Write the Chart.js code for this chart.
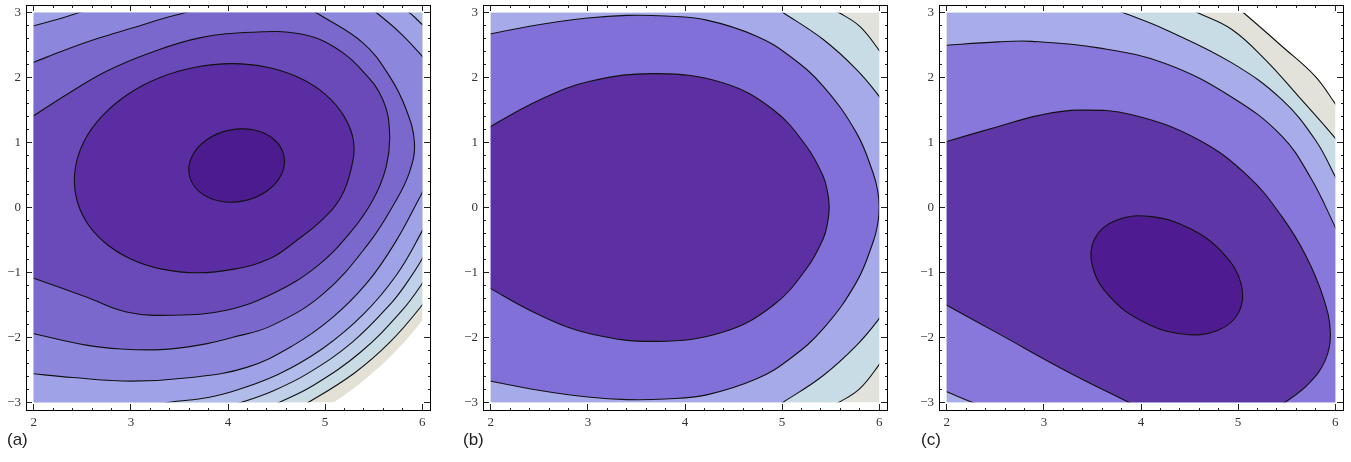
<!DOCTYPE html>
<html>
<head>
<meta charset="utf-8">
<script src="https://cdn.jsdelivr.net/npm/chart.js@4.4.1/dist/chart.umd.min.js"></script>
<style>
  html, body { margin: 0; padding: 0; background: #fff; }
  body { width: 1351px; height: 462px; position: relative; overflow: hidden; }
  canvas { position: absolute; top: 0; }
  .tag { position: absolute; top: 430px; font: 17px "Liberation Sans", Arial, sans-serif; color: #222; }
</style>
</head>
<body>
<canvas id="cA" width="444" height="462" style="left:0px"></canvas>
<canvas id="cB" width="444" height="462" style="left:457px"></canvas>
<canvas id="cC" width="444" height="462" style="left:913px"></canvas>
<div class="tag" style="left:7px">(a)</div>
<div class="tag" style="left:463px">(b)</div>
<div class="tag" style="left:921px">(c)</div>
<script>
// ── domain / ticks ──
const xDomain = [2, 6];
const yDomain = [-3, 3];
const xMajor = [2, 3, 4, 5, 6];
const yMajor = [-3, -2, -1, 0, 1, 2, 3];
const minorStep = 0.2;

// ── panel (a) contour lines, [x, y] ──
// open pieces carry one point just past the frame so they leave it at the right angle
const A_L1 = [[4.576,0.796],[4.549,0.504],[4.397,0.250],[4.163,0.102],[3.909,0.100],[3.704,0.245],[3.602,0.497],[3.630,0.790],[3.781,1.044],[4.015,1.192],[4.269,1.193],[4.474,1.048]];
const A_L2 = [[5.293,1.017],[5.269,0.602],[5.166,0.168],[4.985,-0.167],[4.703,-0.512],[4.426,-0.791],[4.062,-0.950],[3.685,-1.006],[3.321,-0.950],[2.992,-0.788],[2.724,-0.532],[2.532,-0.197],[2.432,0.194],[2.428,0.609],[2.521,1.028],[2.708,1.414],[2.974,1.749],[3.300,2.003],[3.664,2.161],[4.040,2.217],[4.405,2.161],[4.734,1.999],[5.002,1.744],[5.194,1.408]];
const A_L3 = [[1.85,1.27],[2.0,1.414],[2.336,1.738],[2.748,2.099],[3.194,2.382],[3.708,2.614],[4.257,2.701],[4.738,2.676],[5.081,2.485],[5.389,2.099],[5.595,1.661],[5.664,1.146],[5.629,0.631],[5.492,0.116],[5.252,-0.399],[4.909,-0.914],[4.463,-1.325],[3.983,-1.583],[3.434,-1.660],[2.954,-1.609],[2.54,-1.378],[2.0,-1.09],[1.85,-1.01]];
const A_L4a = [[1.85,2.15],[2.0,2.238],[2.336,2.434],[2.679,2.614],[3.022,2.768],[3.297,2.897],[3.554,3.0],[3.8,3.1]];
const A_L4b = [[4.75,3.15],[4.91,3.0],[5.389,2.537],[5.664,2.02],[5.836,1.506],[5.92,0.99],[5.87,0.55],[5.727,0.1],[5.45,-0.55],[4.98,-1.33],[4.45,-1.82],[4.05,-2.0],[3.7,-2.12],[3.3,-2.19],[2.9,-2.18],[2.54,-2.12],[2.0,-1.944],[1.85,-1.89]];
const A_L5a = [[1.85,2.75],[2.0,2.80],[2.2,2.88],[2.46,3.0],[2.6,3.07]];
const A_L5b = [[5.42,3.12],[5.53,3.0],[5.78,2.68],[6.0,2.33],[6.1,2.15]];
const A_L5c = [[6.12,0.56],[6.0,0.227],[5.724,-0.533],[5.433,-1.159],[5.072,-1.701],[4.655,-2.14],[4.193,-2.463],[3.62,-2.62],[3.0,-2.675],[2.4,-2.62],[2.0,-2.562],[1.85,-2.535]];
const A_L6a = [[6.08,2.73],[6.0,2.82],[5.93,2.92],[5.87,3.0],[5.8,3.07]];
const A_L6b = [[3.15,-3.1],[3.40,-3.0],[3.7,-2.95],[4.0,-2.854],[4.509,-2.576],[4.979,-2.168],[5.395,-1.644],[5.744,-1.020],[6.0,-0.36],[6.08,-0.1]];
const A_L7 = [[3.869,-3.107],[4.14,-3.0],[4.463,-2.826],[4.818,-2.56],[5.281,-2.073],[5.681,-1.472],[5.853,-1.135],[6.0,-0.79],[6.136,-0.4]];
const A_L8 = [[4.351,-3.109],[4.532,-3.0],[4.885,-2.735],[5.367,-2.226],[5.783,-1.602],[6.0,-1.17],[6.15,-0.80]];
const A_L9 = [[4.621,-3.152],[4.83,-3.0],[5.306,-2.546],[5.675,-2.064],[6.0,-1.502],[6.17,-1.131]];
const A_edge = [[4.88,-3.17],[5.09,-3.0],[5.44,-2.61],[5.76,-2.16],[6.0,-1.74],[6.16,-1.42]];
const A_colors = ['#e3e1d6','#c9dce4','#c0d0e8','#b2bcea','#a0a2e8','#8c86dc','#7a68cc','#6a4ab8','#5a2ea2','#4c1c8e'];

// ── panel (b) ──
const B_L1 = [[1.85,1.1],[2.0,1.25],[2.508,1.661],[3.022,1.944],[3.708,2.063],[4.395,1.919],[4.909,1.507],[5.252,0.94],[5.424,0.477],[5.47,0.22],[5.485,0.0],[5.47,-0.22],[5.424,-0.477],[5.252,-0.94],[4.909,-1.507],[4.395,-1.919],[3.708,-2.063],[3.022,-1.944],[2.508,-1.661],[2.0,-1.25],[1.85,-1.1]];
const B_L2 = [[1.85,2.62],[2.0,2.676],[2.508,2.82],[3.0,2.92],[3.40,2.96],[3.8,2.95],[4.223,2.887],[4.738,2.64],[5.081,2.33],[5.424,1.867],[5.767,1.146],[5.938,0.528],[5.985,0.25],[6.0,0.0],[5.985,-0.25],[5.938,-0.528],[5.767,-1.146],[5.424,-1.867],[5.081,-2.33],[4.738,-2.64],[4.223,-2.887],[3.8,-2.95],[3.40,-2.96],[3.0,-2.92],[2.508,-2.82],[2.0,-2.676],[1.85,-2.62]];
const B_L3a = [[4.9,3.1],[5.012,3.0],[5.424,2.588],[5.767,2.125],[6.0,1.713],[6.1,1.48]];
const B_L3b = [[6.1,-1.48],[6.0,-1.713],[5.767,-2.125],[5.424,-2.588],[5.012,-3.0],[4.9,-3.1]];
const B_L4a = [[5.48,3.08],[5.588,3.0],[5.80,2.79],[6.0,2.42],[6.1,2.2]];
const B_L4b = [[6.1,-2.2],[6.0,-2.42],[5.80,-2.79],[5.588,-3.0],[5.48,-3.08]];
const B_colors = ['#e2e2dc','#c8dce6','#a6aae8','#8070d8','#5c30a2'];

// ── panel (c) ──
const C_L1 = [[5.008,-1.612],[4.788,-1.894],[4.427,-1.949],[4.023,-1.761],[3.684,-1.381],[3.501,-0.911],[3.524,-0.477],[3.745,-0.196],[4.105,-0.141],[4.509,-0.329],[4.848,-0.709],[5.031,-1.178]];
const C_L2a = [[1.85,0.955],[2.0,1.018],[2.532,1.249],[2.95,1.42],[3.35,1.5],[3.906,1.43],[4.592,1.043],[5.107,0.477],[5.451,-0.141],[5.70,-0.75],[5.88,-1.4],[5.95,-1.94],[5.897,-2.355],[5.725,-2.716],[5.485,-3.0],[5.35,-3.12]];
const C_L2b = [[4.05,-3.13],[3.871,-3.0],[3.219,-2.51],[2.532,-1.943],[2.0,-1.506],[1.85,-1.38]];
const C_L3a = [[1.85,2.48],[2.0,2.50],[2.532,2.552],[2.876,2.56],[3.562,2.46],[4.249,2.22],[4.936,1.70],[5.45,1.10],[5.75,0.45],[6.0,-0.30],[6.06,-0.5]];
const C_L3b = [[2.4,-3.08],[2.26,-3.0],[2.0,-2.84],[1.85,-2.75]];
const C_L4 = [[3.65,3.1],[3.82,3.0],[4.249,2.743],[4.936,2.228],[5.451,1.661],[5.794,1.043],[6.0,0.477],[6.07,0.25]];
const C_L5 = [[4.44,3.1],[4.585,3.0],[4.936,2.743],[5.279,2.279],[5.622,1.713],[6.0,1.069],[6.08,0.9]];
const C_L6 = [[4.93,3.15],[5.056,3.0],[5.451,2.485],[5.794,2.022],[6.0,1.6],[6.08,1.42]];
const C_colors = ['#e2e2da','#c8dce6','#a8ace8','#8878dc','#5e36a6','#4e1c90'];

// corners just outside the plotted domain, used to close the fill shapes
const M = 0.3;
const oTL = [xDomain[0] - M, yDomain[1] + M], oTR = [xDomain[1] + M, yDomain[1] + M];
const oBL = [xDomain[0] - M, yDomain[0] - M], oBR = [xDomain[1] + M, yDomain[0] - M];

// closed curve: wrap one point on each side so the spline has no seam
const closed = arr => [arr[arr.length - 1], ...arr, arr[0], arr[1]];

// ── helpers ──
const toXY = arr => arr.map(p => ({ x: p[0], y: p[1] }));
const isMajor = v => Math.abs(v - Math.round(v)) < 1e-6;
const fmt = v => (v < 0 ? '\u2212' + Math.abs(v) : String(v));

function fillSet(parts, color, tension = 0.4) {
  return {
    data: toXY([].concat(...parts)), showLine: true, fill: 'shape',
    backgroundColor: color, borderColor: 'rgba(0,0,0,0)', borderWidth: 0,
    pointRadius: 0, pointHoverRadius: 0, tension
  };
}
function lineSet(arr) {
  return {
    data: toXY(arr), showLine: true, fill: false, borderColor: '#111', borderWidth: 1.1,
    pointRadius: 0, pointHoverRadius: 0, tension: 0.4
  };
}
function loopLineSet(arr) {
  const pts = closed(arr);
  const last = pts.length - 1;
  const ds = lineSet(pts);
  // the two wrap-around segments only shape the spline, they are not stroked
  ds.segment = { borderColor: c => (c.p0DataIndex === 0 || c.p1DataIndex === last) ? 'rgba(0,0,0,0)' : undefined };
  return ds;
}

function tickValues(domain) {
  const out = [];
  for (let v = domain[0]; v <= domain[1] + 1e-9; v += minorStep) out.push(Math.round(v * 10) / 10);
  return out;
}

function axis(pos, domain, majors, labels, size) {
  const horiz = pos === 'top' || pos === 'bottom';
  const pad = 0.02 * (domain[1] - domain[0]);
  // minor ticks: 3px from the frame inward (dash direction depends on side)
  const minorDash = (pos === 'bottom' || pos === 'right') ? [3, 30] : [0, 3, 3, 30];
  return {
    type: 'linear', position: pos, bounds: 'data',
    min: domain[0] - pad, max: domain[1] + pad,
    afterBuildTicks: s => { s.ticks = tickValues(domain).map(v => ({ value: v })); },
    afterFit: s => {
      if (horiz) s.height = size; else s.width = size;
      s.paddingLeft = s.paddingRight = s.paddingTop = s.paddingBottom = 0;
    },
    grid: {
      drawOnChartArea: false, drawTicks: true, tickLength: -6,
      tickColor: '#222', tickWidth: 1,
      tickBorderDash: c => (c.tick && majors.some(m => Math.abs(m - c.tick.value) < 1e-6)) ? [] : minorDash
    },
    border: { display: true, color: '#000', width: 1 },
    ticks: {
      display: labels, autoSkip: false, maxRotation: 0, padding: 11,
      font: { family: '"Liberation Serif", "Times New Roman", serif', size: 13 },
      color: '#333',
      callback: v => (isMajor(v) ? fmt(Math.round(v)) : '')
    }
  };
}

// clip every fill and line to the plotted domain rectangle
const clipToDomain = {
  id: 'clipToDomain',
  beforeDatasetsDraw(chart) {
    const { ctx, scales: { x, y } } = chart;
    const l = x.getPixelForValue(xDomain[0]), r = x.getPixelForValue(xDomain[1]);
    const t = y.getPixelForValue(yDomain[1]), b = y.getPixelForValue(yDomain[0]);
    ctx.save();
    ctx.beginPath();
    ctx.rect(l, t, r - l, b - t);
    ctx.clip();
  },
  afterDatasetsDraw(chart) { chart.ctx.restore(); }
};

function drawPanel(id, regions, lines) {
  // first dataset is drawn last: lines on top, then fills inner → outer
  const datasets = lines.concat(regions.slice().reverse());
  return new Chart(document.getElementById(id), {
    type: 'scatter',
    data: { datasets },
    options: {
      responsive: false, animation: false, events: [],
      layout: { padding: 0, autoPadding: false },
      plugins: { legend: { display: false }, tooltip: { enabled: false } },
      scales: {
        x: axis('bottom', xDomain, xMajor, true, 52),
        x2: axis('top', xDomain, xMajor, false, 5),
        y: axis('left', yDomain, yMajor, true, 26),
        y2: axis('right', yDomain, yMajor, false, 14)
      }
    },
    plugins: [clipToDomain]
  });
}

// panel (a): regions listed outer → inner
drawPanel('cA', [
  fillSet([A_edge, [oTR, oTL, oBL]], A_colors[0]),
  fillSet([A_L9, [oTR, oTL, oBL]], A_colors[1]),
  fillSet([A_L8, [oTR, oTL, oBL]], A_colors[2]),
  fillSet([A_L7, [oTR, oTL, oBL]], A_colors[3]),
  fillSet([A_L6b, A_L6a, [oTL, oBL]], A_colors[4]),
  fillSet([A_L5a, A_L5b, A_L5c], A_colors[5]),
  fillSet([A_L4a, A_L4b], A_colors[6]),
  fillSet([A_L3], A_colors[7]),
  fillSet([closed(A_L2)], A_colors[8]),
  fillSet([closed(A_L1)], A_colors[9])
], [loopLineSet(A_L1), loopLineSet(A_L2)].concat(
  [A_L3, A_L4a, A_L4b, A_L5a, A_L5b, A_L5c, A_L6a, A_L6b, A_L7, A_L8, A_L9].map(lineSet)));

// panel (b)
drawPanel('cB', [
  fillSet([[oBL, oBR, oTR, oTL]], B_colors[0], 0),
  fillSet([B_L4b, [oBL, oTL], B_L4a], B_colors[1]),
  fillSet([B_L3b, [oBL, oTL], B_L3a], B_colors[2]),
  fillSet([B_L2], B_colors[3]),
  fillSet([B_L1], B_colors[4])
], [B_L1, B_L2, B_L3a, B_L3b, B_L4a, B_L4b].map(lineSet));

// panel (c)
drawPanel('cC', [
  fillSet([C_L6, [oBR, oBL, oTL]], C_colors[0]),
  fillSet([C_L5, [oBR, oBL, oTL]], C_colors[1]),
  fillSet([C_L4, [oBR, oBL, oTL]], C_colors[2]),
  fillSet([C_L3a, [oBR], C_L3b], C_colors[3]),
  fillSet([C_L2a, C_L2b], C_colors[4]),
  fillSet([closed(C_L1)], C_colors[5])
], [loopLineSet(C_L1)].concat([C_L2a, C_L2b, C_L3a, C_L3b, C_L4, C_L5, C_L6].map(lineSet)));
</script>
</body>
</html>
